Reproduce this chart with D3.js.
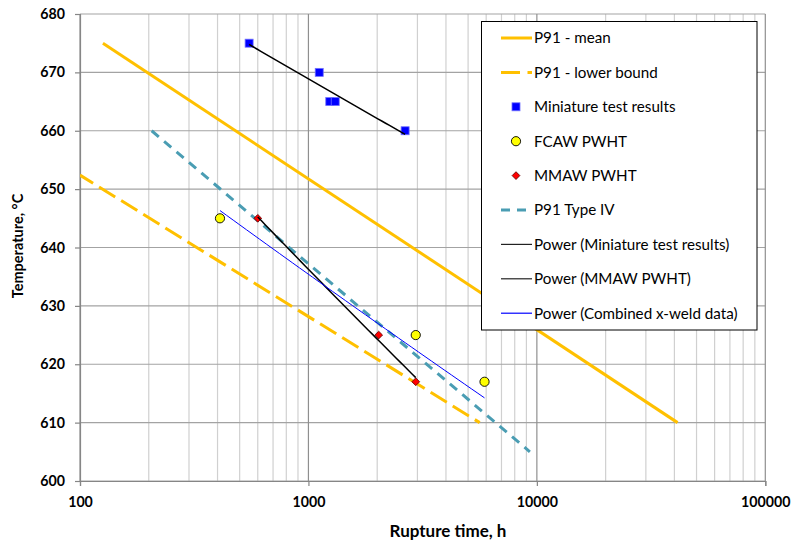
<!DOCTYPE html>
<html>
<head>
<meta charset="utf-8">
<script src="https://cdn.jsdelivr.net/npm/d3@7"></script>
<style>
  body { margin: 0; background: #fff; }
  svg { display: block; font-family: Lato, "Liberation Sans", sans-serif; }
</style>
</head>
<body>
<svg id="chart" width="792" height="542"></svg>
<script>
// Rupture time (h) vs temperature (°C)
const meanTime = [126, 41300];
const meanTemp = [675, 610];
const lowerTime = [100, 5620];
const lowerTemp = [652.4, 610];
const miniTime = [550, 1115, 1240, 1310, 2650];
const miniTemp = [675, 670, 665, 665, 660];
const fcawTime = [410, 2950, 5900];
const fcawTemp = [645, 625, 617];
const mmawTime = [600, 2030, 2950];
const mmawTemp = [645, 625, 617];
const typeIVTime = [206, 9320];
const typeIVTemp = [660, 605];
const xTickValues = [100, 1000, 10000, 100000];
const yTickValues = [600, 610, 620, 630, 640, 650, 660, 670, 680];

const svg = d3.select("#chart");
const plotLeft = 80, plotRight = 765.3, plotTop = 14, plotBottom = 481;

const x = d3.scaleLog().domain([100, 100000]).range([plotLeft, plotRight]);
const y = d3.scaleLinear().domain([600, 680]).range([plotBottom, plotTop]);

const zip = (xs, ys) => xs.map((v, i) => [v, ys[i]]);

// Excel-style power trendline: T = a * t^b, least squares in log-log space
function powerFit(xs, ys) {
  const lx = xs.map(Math.log), ly = ys.map(Math.log);
  const mx = d3.mean(lx), my = d3.mean(ly);
  const b = d3.sum(lx, (v, i) => (v - mx) * (ly[i] - my)) / d3.sum(lx, v => (v - mx) * (v - mx));
  const a = Math.exp(my - b * mx);
  const lo = d3.min(xs), hi = d3.max(xs);
  return d3.range(0, 41).map(k => {
    const t = Math.exp(Math.log(lo) + (Math.log(hi) - Math.log(lo)) * k / 40);
    return [t, a * Math.pow(t, b)];
  });
}

// gridlines
const grid = svg.append("g");
const minor = [];
[100, 1000, 10000].forEach(d => { for (let k = 2; k <= 9; k++) minor.push(d * k); });
grid.selectAll(".minor").data(minor).join("line")
  .attr("x1", d => x(d)).attr("x2", d => x(d))
  .attr("y1", plotTop).attr("y2", plotBottom)
  .attr("stroke", "#d0d0d0").attr("stroke-width", 1.2);
grid.selectAll(".hgrid").data(yTickValues).join("line")
  .attr("x1", plotLeft).attr("x2", plotRight)
  .attr("y1", d => y(d)).attr("y2", d => y(d))
  .attr("stroke", "#a3a3a3").attr("stroke-width", 1.2);
grid.selectAll(".major").data(xTickValues).join("line")
  .attr("x1", d => x(d)).attr("x2", d => x(d))
  .attr("y1", plotTop).attr("y2", plotBottom)
  .attr("stroke", "#8f8f8f").attr("stroke-width", 1.2);

// axes
const yAxis = d3.axisLeft(y).tickValues(yTickValues).tickSize(5).tickPadding(10).tickFormat(d3.format("d"));
const xAxis = d3.axisBottom(x).tickValues(xTickValues).tickSize(5).tickPadding(11).tickFormat(d3.format("d"));
const gy = svg.append("g").attr("transform", `translate(${plotLeft},0)`).call(yAxis);
const gx = svg.append("g").attr("transform", `translate(0,${plotBottom})`).call(xAxis);
[gx, gy].forEach(g => {
  g.select(".domain").attr("stroke", "#868686").attr("stroke-width", 1.2);
  g.selectAll(".tick line").attr("stroke", "#868686").attr("stroke-width", 1.2);
  g.selectAll(".tick text").attr("fill", "#000").attr("font-family", "Lato, sans-serif")
    .attr("font-size", 14.2).attr("font-weight", "bold");
});

// axis titles
svg.append("text").attr("x", 448).attr("y", 537).attr("text-anchor", "middle")
  .attr("font-size", 17).attr("font-weight", "bold").text("Rupture time, h");
svg.append("text").attr("transform", "translate(23,246) rotate(-90)").attr("text-anchor", "middle")
  .attr("font-size", 14.5).attr("font-weight", "bold").text("Temperature, °C");

// plotted series
svg.append("clipPath").attr("id", "plot").append("rect")
  .attr("x", plotLeft).attr("y", plotTop).attr("width", plotRight - plotLeft).attr("height", plotBottom - plotTop);
const plot = svg.append("g").attr("clip-path", "url(#plot)");
const line = d3.line().x(d => x(d[0])).y(d => y(d[1]));

const orange = "#FFC000", teal = "#4A9DB3";
plot.append("path").attr("d", line(zip(meanTime, meanTemp)))
  .attr("fill", "none").attr("stroke", orange).attr("stroke-width", 3);
plot.append("path").attr("d", line(zip(lowerTime, lowerTemp)))
  .attr("fill", "none").attr("stroke", orange).attr("stroke-width", 3)
  .attr("stroke-dasharray", "19,7").attr("stroke-dashoffset", 3.6);
plot.append("path").attr("d", line(zip(typeIVTime, typeIVTemp)))
  .attr("fill", "none").attr("stroke", teal).attr("stroke-width", 3).attr("stroke-dasharray", "9.3,7");

const sq = 8;
plot.selectAll(".mini").data(zip(miniTime, miniTemp)).join("rect")
  .attr("x", d => x(d[0]) - sq / 2).attr("y", d => y(d[1]) - sq / 2)
  .attr("width", sq).attr("height", sq)
  .attr("fill", "#0000FF").attr("stroke", "#7070ff").attr("stroke-width", 0.8);
plot.selectAll(".fcaw").data(zip(fcawTime, fcawTemp)).join("circle")
  .attr("cx", d => x(d[0])).attr("cy", d => y(d[1])).attr("r", 4.6)
  .attr("fill", "#FFFF00").attr("stroke", "#000").attr("stroke-width", 0.9);
plot.selectAll(".mmaw").data(zip(mmawTime, mmawTemp)).join("path")
  .attr("transform", d => `translate(${x(d[0])},${y(d[1])}) rotate(45)`)
  .attr("d", d3.symbol().type(d3.symbolSquare).size(30))
  .attr("fill", "#FF0000").attr("stroke", "#600000").attr("stroke-width", 0.8);

// power trendlines
plot.append("path").attr("d", line(powerFit(miniTime, miniTemp)))
  .attr("fill", "none").attr("stroke", "#000").attr("stroke-width", 1.5);
plot.append("path").attr("d", line(powerFit(mmawTime, mmawTemp)))
  .attr("fill", "none").attr("stroke", "#000").attr("stroke-width", 1.5);
plot.append("path").attr("d", line(powerFit(fcawTime.concat(mmawTime), fcawTemp.concat(mmawTemp))))
  .attr("fill", "none").attr("stroke", "#0000FF").attr("stroke-width", 1);

// legend
const legend = svg.append("g");
legend.append("rect").attr("x", 481.5).attr("y", 21.5).attr("width", 275.5).attr("height", 308.5)
  .attr("fill", "#fff").attr("stroke", "#000").attr("stroke-width", 1);
const entries = [
  { name: "P91 - mean", kind: "line", color: orange, w: 3, dash: null },
  { name: "P91 - lower bound", kind: "line", color: orange, w: 3, dash: "19,7.5" },
  { name: "Miniature test results", kind: "square" },
  { name: "FCAW PWHT", kind: "circle" },
  { name: "MMAW PWHT", kind: "diamond" },
  { name: "P91 Type IV", kind: "line", color: teal, w: 3, dash: "9,7" },
  { name: "Power (Miniature test results)", kind: "line", color: "#222", w: 1.2, dash: null },
  { name: "Power (MMAW PWHT)", kind: "line", color: "#222", w: 1.2, dash: null },
  { name: "Power (Combined x-weld data)", kind: "line", color: "#0000FF", w: 1.2, dash: null }
];
const rows = legend.selectAll(".entry").data(entries).join("g")
  .attr("transform", (d, i) => `translate(0,${38 + i * 34.4})`);
rows.filter(d => d.kind === "line").append("line")
  .attr("x1", 501).attr("x2", 532).attr("y1", 0).attr("y2", 0)
  .attr("stroke", d => d.color).attr("stroke-width", d => d.w)
  .attr("stroke-dasharray", d => d.dash);
rows.filter(d => d.kind === "square").append("rect")
  .attr("x", 516 - sq / 2).attr("y", -sq / 2).attr("width", sq).attr("height", sq)
  .attr("fill", "#0000FF").attr("stroke", "#7070ff").attr("stroke-width", 0.8);
rows.filter(d => d.kind === "circle").append("circle")
  .attr("cx", 516).attr("cy", 0).attr("r", 4.6)
  .attr("fill", "#FFFF00").attr("stroke", "#000").attr("stroke-width", 0.9);
rows.filter(d => d.kind === "diamond").append("path")
  .attr("transform", "translate(516,0) rotate(45)")
  .attr("d", d3.symbol().type(d3.symbolSquare).size(30))
  .attr("fill", "#FF0000").attr("stroke", "#600000").attr("stroke-width", 0.8);
rows.append("text").attr("x", 534).attr("y", 5.4)
  .attr("font-size", 15.2).attr("fill", "#000").text(d => d.name);
</script>
</body>
</html>
